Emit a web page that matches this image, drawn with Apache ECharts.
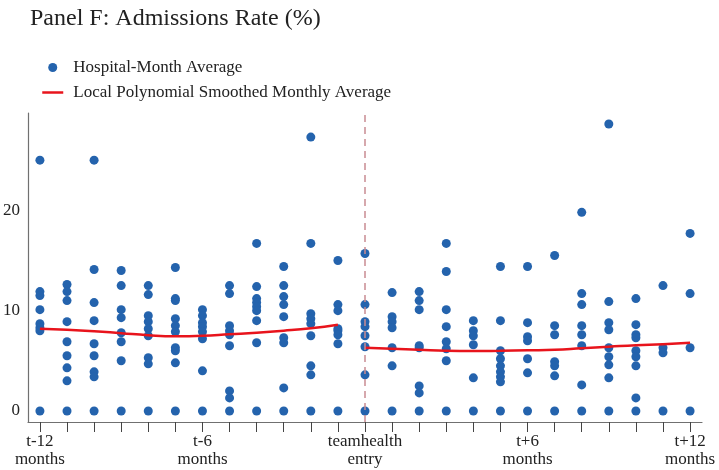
<!DOCTYPE html>
<html>
<head>
<meta charset="utf-8">
<script src="https://cdn.jsdelivr.net/npm/echarts@6/dist/echarts.min.js"></script>
<style>html,body{margin:0;padding:0;background:#fff;}#chart{width:719px;height:470px;}</style>
</head>
<body>
<div id="chart"></div>
<script>
// Months relative to TeamHealth entry
var months = [-12,-11,-10,-9,-8,-7,-6,-5,-4,-3,-2,-1,0,1,2,3,4,5,6,7,8,9,10,11,12];
// Hospital-month averages for each month (same order as months)
var hospitalValues = [
  [25.0, 11.9, 11.5, 10.1, 8.7, 8.3, 8.0, 0],
  [12.6, 11.9, 11.0, 8.9, 6.9, 5.5, 4.3, 3.0, 0],
  [25.0, 14.1, 10.8, 9.0, 6.7, 5.5, 3.9, 3.4, 0],
  [14.0, 12.5, 10.1, 9.3, 7.8, 6.9, 5.0, 0],
  [12.5, 11.6, 9.5, 8.9, 8.2, 7.5, 5.3, 4.7, 0],
  [14.3, 11.2, 11.0, 9.2, 8.5, 7.9, 6.3, 6.0, 4.8, 0],
  [10.1, 9.5, 8.8, 8.4, 7.9, 7.2, 4.0, 0],
  [12.5, 11.7, 8.5, 8.0, 7.6, 6.5, 2.0, 1.3, 0],
  [16.7, 12.4, 11.2, 10.8, 10.4, 10.0, 9.0, 6.8, 0],
  [14.4, 12.5, 11.4, 10.6, 9.4, 7.3, 6.8, 2.3, 0],
  [27.3, 16.7, 9.7, 9.2, 8.7, 7.5, 4.5, 3.6, 0],
  [15.0, 10.6, 10.0, 8.2, 8.0, 7.6, 6.7, 0],
  [15.7, 10.6, 8.9, 8.4, 7.5, 6.4, 3.6, 0],
  [11.8, 9.4, 8.9, 8.3, 6.3, 4.5, 0],
  [11.9, 11.0, 10.1, 6.5, 6.3, 2.5, 1.8, 0],
  [16.7, 13.9, 10.1, 8.4, 6.9, 6.2, 5.0, 0],
  [9.0, 8.0, 7.5, 6.6, 3.3, 0],
  [14.4, 9.0, 6.0, 5.2, 4.5, 3.9, 3.4, 2.9, 0],
  [14.4, 8.8, 7.4, 7.0, 5.2, 3.8, 0],
  [15.5, 8.5, 7.6, 4.9, 4.5, 3.5, 0],
  [19.8, 11.7, 10.6, 8.5, 7.6, 6.5, 2.6, 0],
  [28.6, 10.9, 8.8, 8.1, 6.3, 5.4, 4.6, 3.3, 0],
  [11.2, 8.6, 7.6, 7.3, 6.0, 5.4, 4.5, 1.3, 0],
  [12.5, 6.3, 5.8, 0],
  [17.7, 11.7, 6.3, 0]
];
// Local polynomial smoothed monthly average, before and after entry
var preMonths = [-12,-11,-10,-9,-8,-7,-6,-5,-4,-3,-2,-1];
var preSmooth = [8.2, 8.1, 7.95, 7.75, 7.55, 7.45, 7.5, 7.65, 7.8, 8.0, 8.25, 8.6];
var postMonths = [0,1,2,3,4,5,6,7,8,9,10,11,12];
var postSmooth = [6.3, 6.2, 6.1, 6.0, 5.97, 6.0, 6.05, 6.1, 6.25, 6.4, 6.55, 6.65, 6.8];
// Tick labels
var tickValues = [-12, -6, 0, 6, 12];
var tickLabels = {"-12": "t-12\nmonths", "-6": "t-6\nmonths", "0": "teamhealth\nentry", "6": "t+6\nmonths", "12": "t+12\nmonths"};
var yTickValues = [0, 10, 20];

var scatterData = [];
months.forEach(function (m, i) {
  hospitalValues[i].forEach(function (v) { scatterData.push([m, v]); });
});
var preData = preMonths.map(function (m, i) { return [m, preSmooth[i]]; });
var postData = postMonths.map(function (m, i) { return [m, postSmooth[i]]; });

var serif = '"Liberation Serif", "DejaVu Serif", serif';
var axisGrey = '#707070';
var red = '#e8141c';
var chart = echarts.init(document.getElementById('chart'));
chart.setOption({
  animation: false,
  backgroundColor: '#ffffff',
  title: {
    text: 'Panel F: Admissions Rate (%)',
    left: 25, top: 2,
    textStyle: {fontFamily: serif, fontSize: 24, fontWeight: 'normal', color: '#222'}
  },
  legend: {
    orient: 'vertical',
    left: 41, top: 59, padding: 0,
    itemWidth: 21, itemHeight: 9, itemGap: 8,
    textStyle: {fontFamily: serif, fontSize: 17, color: '#222', padding: [0, 0, 0, 5]},
    data: [
      {name: 'Hospital-Month Average', icon: 'circle'},
      {name: 'Local Polynomial Smoothed Monthly Average', itemStyle: {opacity: 0}, lineStyle: {width: 2.5, color: red}}
    ]
  },
  grid: {left: 28, right: 17, top: 113, bottom: 48},
  xAxis: {
    type: 'value', min: -12.44, max: 12.44,
    splitLine: {show: false},
    axisLine: {onZero: false, lineStyle: {color: axisGrey, width: 1.2}},
    axisTick: {show: true, length: 10, lineStyle: {color: '#444', width: 1}, customValues: months},
    axisLabel: {
      customValues: tickValues, margin: 11,
      fontFamily: serif, fontSize: 17, color: '#222', lineHeight: 18,
      formatter: function (v) { return tickLabels[String(Math.round(v))] || ''; }
    }
  },
  yAxis: {
    type: 'value', min: -1.1, max: 29.7,
    splitLine: {show: false},
    axisLine: {show: true, onZero: false, lineStyle: {color: axisGrey, width: 1.2}},
    axisTick: {show: false},
    axisLabel: {customValues: yTickValues, margin: 8, fontFamily: serif, fontSize: 17, color: '#222'}
  },
  series: [
    {
      name: 'Hospital-Month Average', type: 'scatter', data: scatterData,
      symbolSize: 9, itemStyle: {color: '#2463ad', opacity: 1}, z: 3,
      markLine: {
        silent: true, symbol: 'none', label: {show: false},
        lineStyle: {color: '#c98c93', type: [7, 5], width: 1.5},
        data: [{xAxis: 0}]
      }
    },
    {
      name: 'Local Polynomial Smoothed Monthly Average', type: 'line', data: preData,
      smooth: true, symbol: 'none', lineStyle: {color: red, width: 2.5}, itemStyle: {color: red}, z: 4
    },
    {
      name: 'Local Polynomial Smoothed Monthly Average', type: 'line', data: postData,
      smooth: true, symbol: 'none', lineStyle: {color: red, width: 2.5}, itemStyle: {color: red}, z: 4
    }
  ]
});
</script>
</body>
</html>
